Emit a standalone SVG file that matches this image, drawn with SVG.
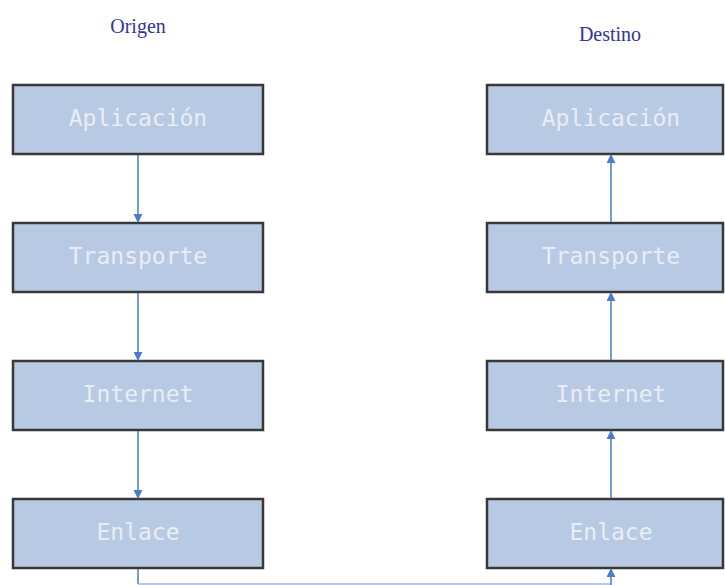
<svg xmlns="http://www.w3.org/2000/svg" width="725" height="585" viewBox="0 0 725 585">
  <defs>
    <marker id="ah" viewBox="0 0 10 10" refX="9" refY="5" markerWidth="9" markerHeight="9" markerUnits="userSpaceOnUse" orient="auto">
      <path d="M0,0 L10,5 L0,10 z" fill="#4a7cc9"/>
    </marker>
  </defs>
  <style>
    .box { fill: #b8c9e3; stroke: #383838; stroke-width: 2.5; }
    .lbl { font-family: "DejaVu Sans Mono", "Liberation Mono", monospace; font-size: 23px; fill: #e9edf5; text-anchor: middle; }
    .title { font-family: "Liberation Serif", serif; font-size: 20px; fill: #34349a; text-anchor: middle; }
    .link { stroke: #4a7cc9; stroke-width: 1.5; fill: none; }
    .base { stroke: #9fb6dd; stroke-width: 1.5; fill: none; }
  </style>
  <rect width="725" height="585" fill="#ffffff"/>

  <text class="title" x="138" y="33">Origen</text>
  <text class="title" x="610" y="41">Destino</text>

  <g id="src-app"><rect class="box" x="13" y="85" width="250" height="69"/><text class="lbl" x="138" y="126">Aplicación</text></g>
  <g id="src-trn"><rect class="box" x="13" y="223" width="250" height="69"/><text class="lbl" x="138" y="264">Transporte</text></g>
  <g id="src-net"><rect class="box" x="13" y="361" width="250" height="69"/><text class="lbl" x="138" y="402">Internet</text></g>
  <g id="src-lnk"><rect class="box" x="13" y="499" width="250" height="69"/><text class="lbl" x="138" y="540">Enlace</text></g>

  <g id="dst-app"><rect class="box" x="487" y="85" width="236" height="69"/><text class="lbl" x="611" y="126">Aplicación</text></g>
  <g id="dst-trn"><rect class="box" x="487" y="223" width="236" height="69"/><text class="lbl" x="611" y="264">Transporte</text></g>
  <g id="dst-net"><rect class="box" x="487" y="361" width="236" height="69"/><text class="lbl" x="611" y="402">Internet</text></g>
  <g id="dst-lnk"><rect class="box" x="487" y="499" width="236" height="69"/><text class="lbl" x="611" y="540">Enlace</text></g>

  <g id="links">
    <line class="link" x1="138" y1="155" x2="138" y2="222" marker-end="url(#ah)"/>
    <line class="link" x1="138" y1="293" x2="138" y2="360" marker-end="url(#ah)"/>
    <line class="link" x1="138" y1="431" x2="138" y2="498" marker-end="url(#ah)"/>
    <line class="link" x1="138" y1="569" x2="138" y2="584"/>
    <line class="base" x1="138" y1="584" x2="611" y2="584"/>
    <line class="link" x1="611" y1="585" x2="611" y2="569" marker-end="url(#ah)"/>
    <line class="link" x1="611" y1="498" x2="611" y2="431" marker-end="url(#ah)"/>
    <line class="link" x1="611" y1="360" x2="611" y2="293" marker-end="url(#ah)"/>
    <line class="link" x1="611" y1="222" x2="611" y2="155" marker-end="url(#ah)"/>
  </g>
</svg>
